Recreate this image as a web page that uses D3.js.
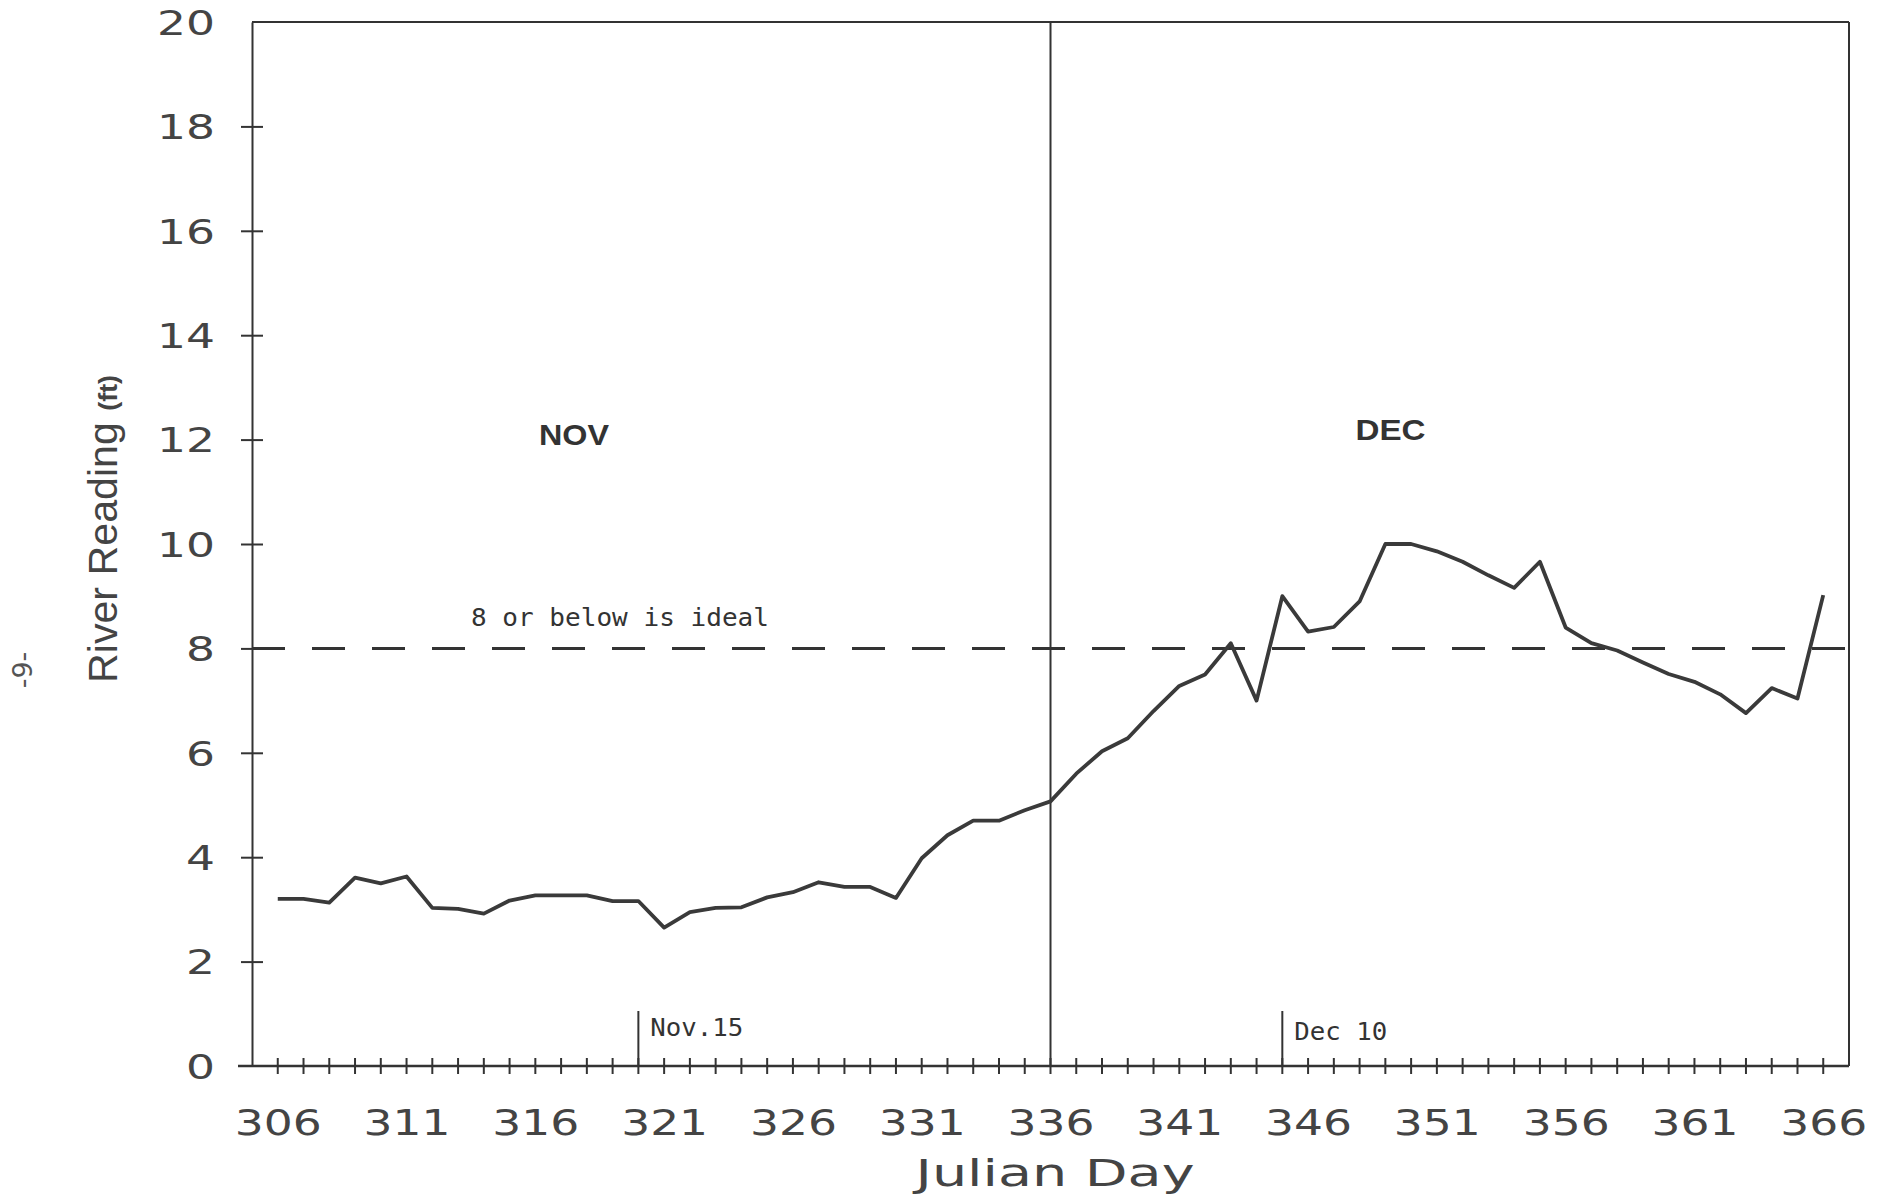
<!DOCTYPE html>
<html><head><meta charset="utf-8">
<script src="https://cdn.jsdelivr.net/npm/d3@7/dist/d3.min.js"></script>
<style>html,body{margin:0;padding:0;background:#fff;} svg{display:block;}</style>
</head><body>
<svg id="chart" width="1895" height="1203"></svg>
<script>
// ---- data ----
const julianDays = [306,307,308,309,310,311,312,313,314,315,316,317,318,319,320,321,322,323,324,325,326,327,328,329,330,331,332,333,334,335,336,337,338,339,340,341,342,343,344,345,346,347,348,349,350,351,352,353,354,355,356,357,358,359,360,361,362,363,364,365,366];
const riverReading = [3.20,3.20,3.13,3.61,3.50,3.63,3.03,3.01,2.92,3.17,3.27,3.27,3.27,3.16,3.16,2.65,2.95,3.03,3.04,3.23,3.33,3.52,3.43,3.43,3.22,3.98,4.42,4.70,4.70,4.90,5.07,5.60,6.03,6.28,6.80,7.28,7.50,8.10,7.00,9.00,8.32,8.41,8.90,10.0,10.0,9.86,9.66,9.40,9.16,9.66,8.40,8.10,7.96,7.73,7.51,7.36,7.12,6.76,7.24,7.04,9.02];
const yTickValues = [0,2,4,6,8,10,12,14,16,18,20];
const xLabelDays = [306,311,316,321,326,331,336,341,346,351,356,361,366];
const xMinorTickDays = [306,307,308,309,310,311,312,313,314,315,316,317,318,319,320,321,322,323,324,325,326,327,328,329,330,331,332,333,334,335,336,337,338,339,340,341,342,343,344,345,346,347,348,349,350,351,352,353,354,355,356,357,358,359,360,361,362,363,364,365,366];
const xDomain = [305, 367];
const yDomain = [0, 20];
const monthBoundaryDay = 336;
const monthNames = ["NOV", "DEC"];
const monthLabelDays = [317.5, 349.2];
const monthLabelValues = [11.9, 12.0];
const markerDays = [320, 345];
const markerLabels = ["Nov.15", "Dec 10"];
const idealLevel = 8;
const idealLabel = "8 or below is ideal";
const idealLabelDay = 313.5;
const xTitle = "Julian Day";
const yTitle = "River Reading ";
const yTitleUnit = "(ft)";
const pageMark = "-9-";

(function draw() {
const svg = d3.select("#chart");
const pLeft = 252, pRight = 1849, pTop = 22, pBottom = 1066;
const ink = "#333";
const x = d3.scaleLinear().domain(xDomain).range([pLeft, pRight]);
const y = d3.scaleLinear().domain(yDomain).range([pBottom, pTop]);

const g = svg.append("g");

// frame top & right
g.append("line").attr("x1", pLeft).attr("x2", pRight).attr("y1", pTop).attr("y2", pTop)
  .attr("stroke", ink).attr("stroke-width", 2);
g.append("line").attr("x1", pRight).attr("x2", pRight).attr("y1", pTop).attr("y2", pBottom)
  .attr("stroke", ink).attr("stroke-width", 2);

// month boundary
g.append("line").attr("x1", x(monthBoundaryDay)).attr("x2", x(monthBoundaryDay))
  .attr("y1", pTop).attr("y2", pBottom).attr("stroke", ink).attr("stroke-width", 2);

// y axis (ticks crossing both sides)
const yAxis = d3.axisLeft(y).tickValues(yTickValues).tickSize(0).tickPadding(37).tickFormat(d3.format("d"));
const yg = g.append("g").attr("transform", `translate(${pLeft},0)`).call(yAxis);
yg.select(".domain").attr("stroke", ink).attr("stroke-width", 2);
yg.selectAll(".tick").filter(d => d !== 0 && d !== 20).append("line")
  .attr("x1", -11).attr("x2", 11).attr("stroke", ink).attr("stroke-width", 2);
yg.selectAll(".tick text")
  .attr("font-family", "DejaVu Sans, sans-serif").attr("font-size", 34).attr("fill", "#444")
  .attr("dy", "0.36em")
  .attr("textLength", function(d){ return String(d).length * 29; })
  .attr("lengthAdjust", "spacingAndGlyphs");

// x axis: minor ticks crossing
const xg = g.append("g").attr("transform", `translate(0,${pBottom})`);
xg.append("line").attr("x1", pLeft - 14).attr("x2", pRight).attr("y1", 0).attr("y2", 0)
  .attr("stroke", ink).attr("stroke-width", 2.5);
xg.selectAll("line.minor").data(xMinorTickDays).join("line").attr("class", "minor")
  .attr("x1", d => x(d)).attr("x2", d => x(d)).attr("y1", -8).attr("y2", 8)
  .attr("stroke", ink).attr("stroke-width", 2);
const xAxis = d3.axisBottom(x).tickValues(xLabelDays).tickSize(0).tickPadding(0).tickFormat(d3.format("d"));
const xl = g.append("g").attr("transform", `translate(0,${pBottom})`).call(xAxis);
xl.select(".domain").remove();
xl.selectAll(".tick text")
  .attr("font-family", "DejaVu Sans, sans-serif").attr("font-size", 36).attr("fill", "#444")
  .attr("y", 69).attr("dy", 0)
  .attr("textLength", 87).attr("lengthAdjust", "spacingAndGlyphs");

// date markers
markerDays.forEach((d, i) => {
  g.append("line").attr("x1", x(d)).attr("x2", x(d)).attr("y1", pBottom - 55).attr("y2", pBottom)
    .attr("stroke", ink).attr("stroke-width", 2);
  g.append("text").attr("x", x(d) + 12).attr("y", pBottom - 30 + i * 4)
    .attr("font-family", "DejaVu Sans Mono, monospace").attr("font-size", 24).attr("fill", ink)
    .attr("textLength", 93).attr("lengthAdjust", "spacingAndGlyphs").text(markerLabels[i]);
});

// ideal level dashed line
g.append("line").attr("x1", pLeft).attr("x2", pRight).attr("y1", y(idealLevel)).attr("y2", y(idealLevel))
  .attr("stroke", ink).attr("stroke-width", 3).attr("stroke-dasharray", "33,27");
g.append("text").attr("x", x(idealLabelDay)).attr("y", y(idealLevel) - 22)
  .attr("font-family", "DejaVu Sans Mono, monospace").attr("font-size", 25).attr("fill", ink)
  .attr("textLength", 298).attr("lengthAdjust", "spacingAndGlyphs").text(idealLabel);

// month labels
monthNames.forEach((m, i) => {
  g.append("text").attr("x", x(monthLabelDays[i])).attr("y", y(monthLabelValues[i]))
    .attr("text-anchor", "middle").attr("font-family", "Liberation Sans, Arial, sans-serif")
    .attr("font-weight", "bold").attr("font-size", 30).attr("fill", ink)
    .attr("textLength", 70).attr("lengthAdjust", "spacingAndGlyphs").text(m);
});

// data line
const line = d3.line().x((d, i) => x(julianDays[i])).y(d => y(d));
g.append("path").datum(riverReading).attr("d", line)
  .attr("fill", "none").attr("stroke", "#3a3a3a").attr("stroke-width", 3.8).attr("stroke-linejoin", "round");

// titles
g.append("text").attr("x", 1055).attr("y", 1186).attr("text-anchor", "middle")
  .attr("font-family", "DejaVu Sans, sans-serif").attr("font-size", 38).attr("fill", "#444")
  .attr("textLength", 279).attr("lengthAdjust", "spacingAndGlyphs").text(xTitle);

const yt = g.append("text").attr("transform", "translate(117,529) rotate(-90)")
  .attr("text-anchor", "middle").attr("font-family", "Liberation Sans, Arial, sans-serif")
  .attr("font-size", 40).attr("fill", "#444")
  .attr("textLength", 308).attr("lengthAdjust", "spacingAndGlyphs");
yt.append("tspan").text(yTitle);
yt.append("tspan").attr("font-weight", "bold").attr("font-size", 26).text(yTitleUnit);

g.append("text").attr("transform", "translate(32,670) rotate(-90)").attr("text-anchor", "middle")
  .attr("font-family", "DejaVu Sans, sans-serif").attr("font-size", 27).attr("fill", "#555")
  .text(pageMark);
})();
</script>
</body></html>
